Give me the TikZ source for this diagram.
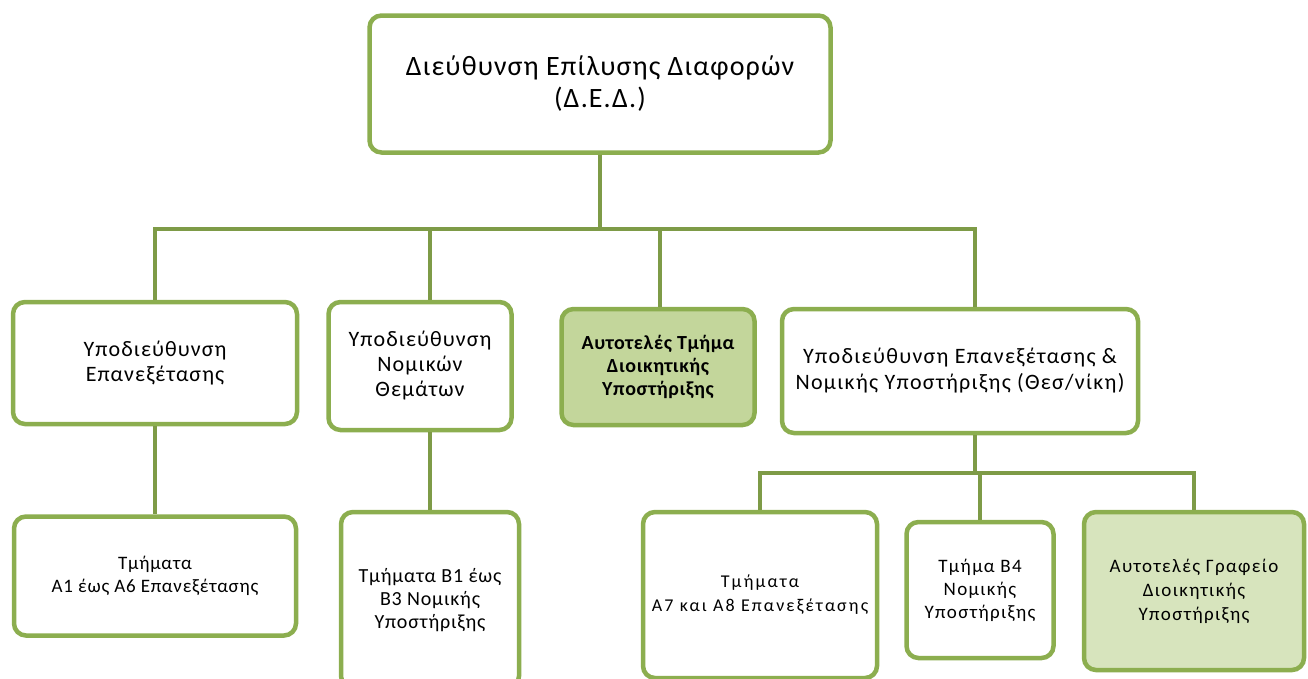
\documentclass[tikz,border=0pt]{standalone}
\usepackage{fontspec}
\setmainfont{Carlito}
\usepackage{tikz}
\definecolor{GreenBorder}{RGB}{140,174,79}
\definecolor{GreenLink}{RGB}{126,155,71}
\definecolor{GreenDark}{RGB}{195,214,155}
\definecolor{GreenLight}{RGB}{215,228,189}
\newcommand{\boxfont}[3]{\fontsize{#1}{#2}\selectfont\addfontfeature{LetterSpace=#3}}
\tikzset{
  unit/.style={draw=GreenBorder, line width=4.5pt, rounded corners=12pt,
    fill=white, align=center, inner sep=0pt},
  link/.style={draw=GreenLink, line width=4.5pt},
}

\begin{document}
\begin{tikzpicture}[x=1pt,y=-1pt]
    %%Canvas
    \useasboundingbox (0,0) rectangle (1308,678);
    \coordinate (bus) at (0,229);
    \coordinate (bus2) at (0,473);
    %%Head
    \node[unit, minimum width=461, minimum height=137, font=\boxfont{28}{32}{4}]
      (ded) at (600,84) {Διεύθυνση Επίλυσης Διαφορών\\(Δ.Ε.Δ.)};
    %%Sub-directorates
    \node[unit, minimum width=284, minimum height=122, font=\boxfont{22}{25}{5}]
      (subA) at (155,363) {Υποδιεύθυνση\\Επανεξέτασης};
    \node[unit, minimum width=183, minimum height=128, font=\boxfont{22}{25}{5}]
      (subB) at (420,366) {Υποδιεύθυνση\\Νομικών\\Θεμάτων};
    \node[unit, fill=GreenDark, minimum width=193, minimum height=116, font=\boxfont{20}{23}{3}\bfseries]
      (subC) at (658,367) {Αυτοτελές Τμήμα\\Διοικητικής\\Υποστήριξης};
    \node[unit, minimum width=356, minimum height=124, font=\boxfont{22}{26}{6}]
      (subD) at (960,371) {Υποδιεύθυνση Επανεξέτασης \&\\Νομικής Υποστήριξης (Θεσ/νίκη)};
    %%Departments
    \node[unit, minimum width=282, minimum height=119, font=\boxfont{19}{23}{4}]
      (secE) at (155,576) {Τμήματα\\Α1 έως Α6 Επανεξέτασης};
    \node[unit, minimum width=178, minimum height=176, font=\boxfont{20}{23}{4}]
      (secF) at (430,600) {Τμήματα Β1 έως\\Β3 Νομικής\\Υποστήριξης};
    \node[unit, minimum width=234, minimum height=166, font=\boxfont{18}{24}{12}]
      (secG) at (760,595) {Τμήματα\\Α7 και Α8 Επανεξέτασης};
    \node[unit, minimum width=147, minimum height=136, font=\boxfont{19}{23}{7}]
      (secH) at (980,590) {Τμήμα Β4\\Νομικής\\Υποστήριξης};
    \node[unit, fill=GreenLight, minimum width=220, minimum height=158, font=\boxfont{19}{24}{7}]
      (secI) at (1194,591) {Αυτοτελές Γραφείο\\Διοικητικής\\Υποστήριξης};
    %%Links
    \foreach \n/\dx in {subA/0,subB/10,subC/2,subD/15}
      \draw[link] (ded.south) |- ([xshift=\dx pt]\n.north |- bus) -- ([xshift=\dx pt]\n.north);
    \draw[link] (subA.south) -- (secE.north);
    \draw[link] (subB.south -| secF.north) -- (secF.north);
    \foreach \n in {secG,secH,secI}
      \draw[link] ([xshift=15pt]subD.south) |- (\n.north |- bus2) -- (\n.north);
\end{tikzpicture}
\end{document}
